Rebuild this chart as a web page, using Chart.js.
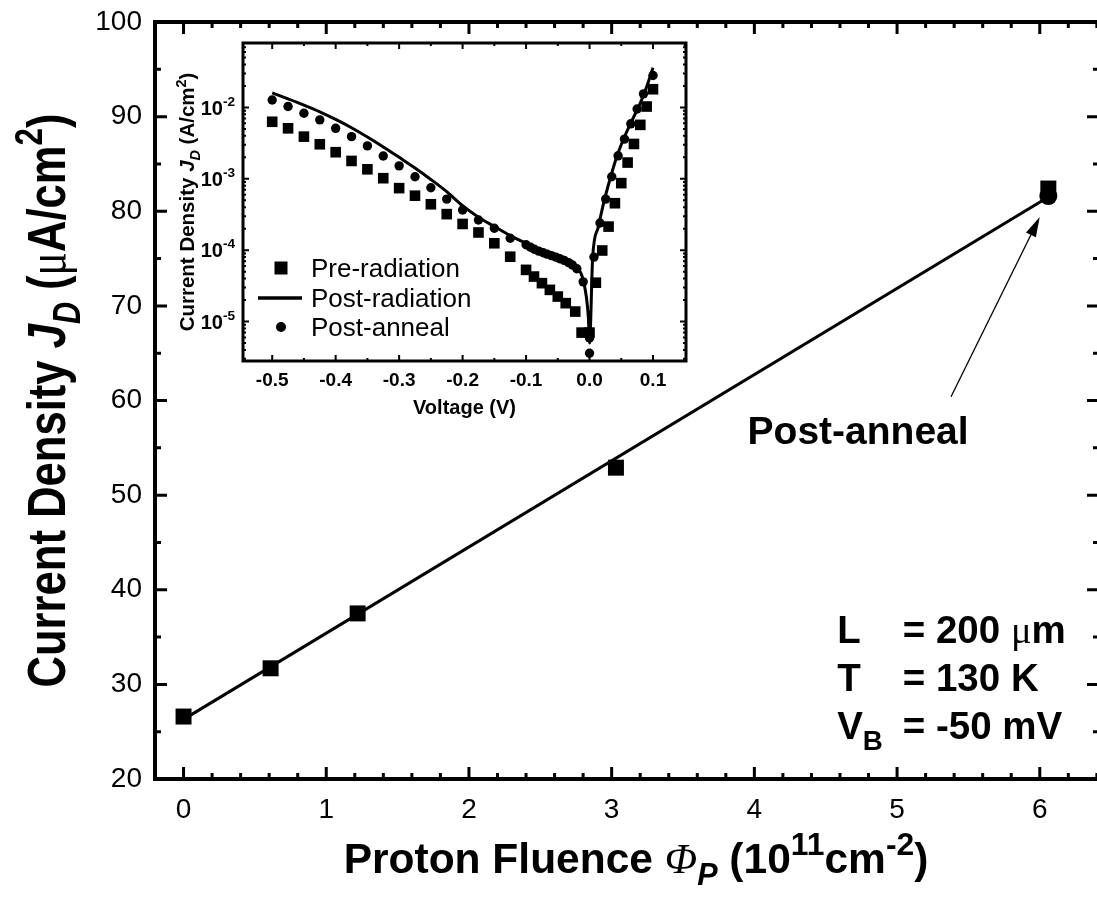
<!DOCTYPE html>
<html>
<head>
<meta charset="utf-8">
<title>Current density vs proton fluence</title>
<script src="https://cdn.jsdelivr.net/npm/chart.js@4.4.1/dist/chart.umd.min.js"></script>
<style>
  html, body { margin:0; padding:0; background:#fff; }
  #wrap { position:relative; width:1097px; height:909px; overflow:hidden; background:#fff; }
  canvas { position:absolute; }
  #main { left:0; top:0; }
  #inset { left:160px; top:30px; }
</style>
</head>
<body>
<div id="wrap">
  <canvas id="main" width="1102" height="909"></canvas>
  <canvas id="inset" width="540" height="400"></canvas>
</div>
<script>
// ---------------- main plot data ----------------
const fluence = [0, 0.61, 1.22, 3.03, 6.06];
const currentDensity = [26.6, 31.7, 37.5, 52.9, 82.4];
const annealFluence = [6.06];
const annealDensity = [81.6];
const fitFluence = [0, 6.06];
const fitDensity = [26.3, 81.5];
const mainXTicks = [0, 1, 2, 3, 4, 5, 6];
const mainYTicks = [20, 30, 40, 50, 60, 70, 80, 90, 100];

// ---------------- inset data ----------------
const preV = [-0.5,-0.475,-0.45,-0.425,-0.4,-0.375,-0.35,-0.325,-0.3,-0.275,-0.25,-0.225,-0.2,-0.175,-0.15,-0.125,-0.1,-0.0875,-0.075,-0.0625,-0.05,-0.0375,-0.0225,-0.0125,0,0.01,0.02,0.03,0.04,0.05,0.06,0.07,0.08,0.09,0.1];
const preJ = [6.3e-3,5.1e-3,3.9e-3,3.05e-3,2.36e-3,1.78e-3,1.36e-3,1.02e-3,7.4e-4,5.8e-4,4.4e-4,3.2e-4,2.33e-4,1.77e-4,1.25e-4,8.1e-5,5.3e-5,4.27e-5,3.45e-5,2.78e-5,2.24e-5,1.81e-5,1.38e-5,7.0e-6,7.0e-6,3.5e-5,9.9e-5,2.14e-4,4.55e-4,8.7e-4,1.69e-3,3.08e-3,5.7e-3,1.03e-2,1.8e-2];
const postRadV = [-0.5,-0.475,-0.45,-0.425,-0.4,-0.375,-0.35,-0.325,-0.3,-0.275,-0.25,-0.225,-0.2,-0.175,-0.15,-0.125,-0.1,-0.075,-0.05,-0.03,-0.02,-0.01,-0.002,0.0,0.005,0.014,0.022,0.032,0.043,0.053,0.066,0.08,0.09,0.1];
const postRadJ = [1.6e-2,1.32e-2,1.08e-2,8.7e-3,6.8e-3,5.2e-3,3.85e-3,2.8e-3,2.0e-3,1.42e-3,9.8e-4,6.6e-4,4.2e-4,2.9e-4,2.15e-4,1.6e-4,1.25e-4,1.0e-4,8.4e-5,7.0e-5,5.8e-5,3.8e-5,1.2e-5,5.0e-6,8.1e-5,2.14e-4,4.5e-4,9.7e-4,2.05e-3,3.5e-3,6.3e-3,1.15e-2,1.95e-2,3.6e-2];
const annealV = [-0.5,-0.475,-0.45,-0.425,-0.4,-0.375,-0.35,-0.325,-0.3,-0.275,-0.25,-0.225,-0.2,-0.175,-0.15,-0.125,-0.1,-0.093,-0.087,-0.08,-0.073,-0.067,-0.06,-0.053,-0.047,-0.04,-0.033,-0.027,-0.02,-0.01,0,0,0.007,0.0165,0.0255,0.035,0.045,0.055,0.065,0.075,0.085,0.1];
const annealJ = [1.27e-2,1.03e-2,8.3e-3,6.7e-3,5.1e-3,3.9e-3,2.89e-3,2.09e-3,1.52e-3,1.07e-3,7.5e-4,5.2e-4,3.66e-4,2.65e-4,2.03e-4,1.47e-4,1.19e-4,1.1e-4,1.03e-4,9.7e-5,9.2e-5,8.8e-5,8.4e-5,8.0e-5,7.6e-5,7.2e-5,6.7e-5,6.2e-5,5.5e-5,3.6e-5,5.9e-6,3.6e-6,8.0e-5,2.4e-4,5.2e-4,1.07e-3,2.1e-3,3.6e-3,5.9e-3,9.5e-3,1.55e-2,2.8e-2];
const insetXTicks = [-0.5, -0.4, -0.3, -0.2, -0.1, 0.0, 0.1];
const insetYExponents = [-5, -4, -3, -2];
const legendLabels = ['Pre-radiation', 'Post-radiation', 'Post-anneal'];

// ---------------- helpers ----------------
const FAM = "'Liberation Sans', Arial, Helvetica, sans-serif";
const SERIF = "'Liberation Serif', 'Times New Roman', serif";
const pts = (xs, ys) => xs.map((x, i) => ({ x, y: ys[i] }));
const fmt1 = v => { const r = Math.round(v * 10) / 10; return (Math.abs(r) < 1e-9 ? 0 : r).toFixed(1); };
const noPadX = s => { s.paddingLeft = 0; s.paddingRight = 0; };
const noPadY = s => { s.paddingTop = 0; s.paddingBottom = 0; };

function drawRich(ctx, parts, x, y, o) {
  const size = o.size;
  const items = parts.map(p => {
    const s = (p.sub || p.sup) ? size * (p.scale || 0.68) : size;
    const fam = p.family || o.family;
    const wt = p.weight || o.weight || 'normal';
    const font = (p.italic ? 'italic ' : '') + wt + ' ' + s + 'px ' + fam;
    ctx.font = font;
    return { t: p.t, font, w: ctx.measureText(p.t).width,
             dy: p.sub ? size * (p.subShift || 0.28) : p.sup ? -size * (p.supShift || 0.42) : 0 };
  });
  const total = items.reduce((a, b) => a + b.w, 0);
  let cx = o.align === 'center' ? x - total / 2 : o.align === 'right' ? x - total : x;
  ctx.textAlign = 'left';
  ctx.textBaseline = 'alphabetic';
  const base = y + size * 0.36;
  for (const it of items) { ctx.font = it.font; ctx.fillText(it.t, cx, base + it.dy); cx += it.w; }
  return total;
}

// ---------------- main decorations ----------------
const mainDecor = {
  id: 'mainDecor',
  afterDatasetsDraw(chart) {
    const { ctx, chartArea: a, scales: { x, y } } = chart;
    ctx.save();
    ctx.strokeStyle = '#000';
    ctx.fillStyle = '#000';
    // inward ticks on all four sides
    ctx.lineWidth = 3;
    ctx.beginPath();
    for (let i = -1; i <= 32; i++) {
      const v = i * 0.2;
      if (v < x.min - 1e-9 || v > x.max + 1e-9) continue;
      const len = (i % 5 === 0) ? 12 : 6;
      const px = x.getPixelForValue(v);
      ctx.moveTo(px, a.bottom); ctx.lineTo(px, a.bottom - len);
      ctx.moveTo(px, a.top); ctx.lineTo(px, a.top + len);
    }
    for (let v = 20; v <= 100; v += 5) {
      const len = (v % 10 === 0) ? 12 : 6;
      const py = y.getPixelForValue(v);
      ctx.moveTo(a.left, py); ctx.lineTo(a.left + len, py);
      ctx.moveTo(a.right, py); ctx.lineTo(a.right - len, py);
    }
    ctx.stroke();
    ctx.lineWidth = 4;
    ctx.strokeRect(a.left, a.top, a.right - a.left, a.bottom - a.top);

    // arrow annotation
    const tx = x.getPixelForValue(5.378), ty = y.getPixelForValue(60.4);
    const hx = x.getPixelForValue(6.0), hy = y.getPixelForValue(79.4);
    const ang = Math.atan2(hy - ty, hx - tx);
    const hl = 20, hw = 5.5;
    ctx.lineWidth = 1.3;
    ctx.beginPath();
    ctx.moveTo(tx, ty);
    ctx.lineTo(hx - Math.cos(ang) * (hl - 2), hy - Math.sin(ang) * (hl - 2));
    ctx.stroke();
    ctx.beginPath();
    ctx.moveTo(hx, hy);
    ctx.lineTo(hx - Math.cos(ang) * hl + Math.sin(ang) * hw, hy - Math.sin(ang) * hl - Math.cos(ang) * hw);
    ctx.lineTo(hx - Math.cos(ang) * hl - Math.sin(ang) * hw, hy - Math.sin(ang) * hl + Math.cos(ang) * hw);
    ctx.closePath();
    ctx.fill();

    // annotation text
    drawRich(ctx, [{ t: 'Post-anneal' }], x.getPixelForValue(4.727), y.getPixelForValue(56.9),
             { size: 39, family: FAM, weight: 'bold', align: 'center' });

    // parameters block
    const c1 = x.getPixelForValue(4.58), c2 = x.getPixelForValue(5.04);
    const rows = [
      { l: [{ t: 'L' }], r: [{ t: '= 200 ' }, { t: 'μ', family: SERIF, weight: 'normal' }, { t: 'm' }], yv: 35.8 },
      { l: [{ t: 'T' }], r: [{ t: '= 130 K' }], yv: 30.8 },
      { l: [{ t: 'V' }, { t: 'B', sub: true, scale: 0.72, subShift: 0.3 }], r: [{ t: '= -50 mV' }], yv: 25.7 },
    ];
    for (const row of rows) {
      const py = y.getPixelForValue(row.yv);
      drawRich(ctx, row.l, c1, py, { size: 38.5, family: FAM, weight: 'bold' });
      drawRich(ctx, row.r, c2, py, { size: 38.5, family: FAM, weight: 'bold' });
    }

    // x axis title
    drawRich(ctx, [
      { t: 'Proton Fluence ' },
      { t: 'Φ', italic: true, family: SERIF, weight: 'normal' },
      { t: 'P', italic: true, sub: true, scale: 0.72 },
      { t: ' (10' },
      { t: '11', sup: true, scale: 0.75 },
      { t: 'cm' },
      { t: '-2', sup: true, scale: 0.75 },
      { t: ')' },
    ], 636, 858, { size: 42.5, family: FAM, weight: 'bold', align: 'center' });

    // y axis title (condensed)
    ctx.save();
    ctx.translate(45, (a.top + a.bottom) / 2);
    ctx.rotate(-Math.PI / 2);
    ctx.scale(0.8, 1);
    drawRich(ctx, [
      { t: 'Current Density ' },
      { t: 'J', italic: true },
      { t: 'D', italic: true, sub: true, scale: 0.7 },
      { t: ' (' },
      { t: 'μ', family: SERIF, weight: 'normal' },
      { t: 'A/cm' },
      { t: '2', sup: true, scale: 0.72 },
      { t: ')' },
    ], 0, 0, { size: 54.5, family: FAM, weight: 'bold', align: 'center' });
    ctx.restore();
    ctx.restore();
  }
};

const mainChart = new Chart(document.getElementById('main'), {
  type: 'scatter',
  data: {
    datasets: [
      { label: 'Linear fit', data: pts(fitFluence, fitDensity), showLine: true, borderColor: '#000',
        borderWidth: 3, pointRadius: 0, fill: false },
      { label: 'Post-anneal', data: pts(annealFluence, annealDensity), pointStyle: 'circle', pointRadius: 9,
        backgroundColor: '#000', borderColor: '#000', borderWidth: 0 },
      { label: 'Current density', data: pts(fluence, currentDensity), pointStyle: 'rect', pointRadius: 11.3,
        backgroundColor: '#000', borderColor: '#000', borderWidth: 0 },
    ]
  },
  options: {
    responsive: false,
    animation: false,
    layout: { autoPadding: false, padding: { top: 22, right: 3, left: 0, bottom: 0 } },
    plugins: { legend: { display: false }, tooltip: { enabled: false } },
    scales: {
      x: {
        type: 'linear', min: -0.2, max: 6.415,
        afterFit(s) { s.height = 130; noPadX(s); },
        afterBuildTicks(s) { s.ticks = mainXTicks.map(v => ({ value: v })); },
        ticks: { font: { family: FAM, size: 28 }, color: '#000', padding: 14, maxRotation: 0, autoSkip: false },
        grid: { display: false, drawTicks: false }, border: { display: false }
      },
      y: {
        type: 'linear', min: 20, max: 100,
        afterFit(s) { s.width = 155; noPadY(s); },
        afterBuildTicks(s) { s.ticks = mainYTicks.map(v => ({ value: v })); },
        ticks: { font: { family: FAM, size: 28 }, color: '#000', padding: 13, autoSkip: false },
        grid: { display: false, drawTicks: false }, border: { display: false }
      }
    }
  },
  plugins: [mainDecor]
});

// ---------------- inset decorations ----------------
const insetDecor = {
  id: 'insetDecor',
  beforeDatasetsDraw(chart) {
    const { ctx, chartArea: a } = chart;
    ctx.save();
    ctx.fillStyle = '#fff';
    ctx.fillRect(a.left, a.top, a.right - a.left, a.bottom - a.top);
    ctx.restore();
  },
  afterDraw(chart) {
    const { ctx, chartArea: a, scales: { x, y } } = chart;
    ctx.save();
    ctx.strokeStyle = '#000';
    ctx.fillStyle = '#000';
    ctx.lineWidth = 2;
    ctx.beginPath();
    for (let i = -11; i <= 3; i++) {
      const v = i * 0.05;
      if (v < x.min || v > x.max) continue;
      const len = (i % 2 === 0) ? 6 : 3;
      const px = x.getPixelForValue(v);
      ctx.moveTo(px, a.bottom); ctx.lineTo(px, a.bottom - len);
      ctx.moveTo(px, a.top); ctx.lineTo(px, a.top + len);
    }
    for (let e = -6; e <= -2; e++) {
      for (let k = 1; k <= 9; k++) {
        const v = k * Math.pow(10, e);
        if (v < y.min || v > y.max) continue;
        const len = k === 1 ? 6 : 3;
        const py = y.getPixelForValue(v);
        ctx.moveTo(a.left, py); ctx.lineTo(a.left + len, py);
        ctx.moveTo(a.right, py); ctx.lineTo(a.right - len, py);
      }
    }
    ctx.stroke();
    ctx.lineWidth = 3;
    ctx.strokeRect(a.left, a.top, a.right - a.left, a.bottom - a.top);

    // y tick labels 10^n
    for (const e of insetYExponents) {
      const py = y.getPixelForValue(Math.pow(10, e));
      drawRich(ctx, [{ t: '10' }, { t: String(e), sup: true, scale: 0.68, supShift: 0.45 }], a.left - 8, py,
               { size: 20, family: FAM, weight: 'bold', align: 'right' });
    }
    // x title
    drawRich(ctx, [{ t: 'Voltage (V)' }], (a.left + a.right) / 2, 377, { size: 20, family: FAM, weight: 'bold', align: 'center' });
    // y title
    ctx.save();
    ctx.translate(27, (a.top + a.bottom) / 2);
    ctx.rotate(-Math.PI / 2);
    drawRich(ctx, [
      { t: 'Current Density ' }, { t: 'J', italic: true }, { t: 'D', italic: true, sub: true, scale: 0.7 },
      { t: ' (A/cm' }, { t: '2', sup: true, scale: 0.7 }, { t: ')' }
    ], 0, 0, { size: 20.5, family: FAM, weight: 'bold', align: 'center' });
    ctx.restore();

    // legend
    const lx = 121, tx = 151, rows = [238, 268, 297];
    ctx.fillRect(lx - 6.5, rows[0] - 6.5, 13, 13);
    ctx.lineWidth = 3.5;
    ctx.beginPath(); ctx.moveTo(lx - 23, rows[1]); ctx.lineTo(lx + 21, rows[1]); ctx.stroke();
    ctx.beginPath(); ctx.arc(lx, rows[2], 5, 0, Math.PI * 2); ctx.fill();
    legendLabels.forEach((t, i) => drawRich(ctx, [{ t }], tx, rows[i], { size: 26, family: FAM, weight: 'normal' }));
    ctx.restore();
  }
};

const insetChart = new Chart(document.getElementById('inset'), {
  type: 'scatter',
  data: {
    datasets: [
      { label: legendLabels[0], data: pts(preV, preJ), pointStyle: 'rect', pointRadius: 7.5,
        backgroundColor: '#000', borderColor: '#000', borderWidth: 0 },
      { label: legendLabels[1], data: pts(postRadV, postRadJ), showLine: true, borderColor: '#000',
        borderWidth: 3, pointRadius: 0, cubicInterpolationMode: 'monotone', fill: false },
      { label: legendLabels[2], data: pts(annealV, annealJ), pointStyle: 'circle', pointRadius: 4.7,
        backgroundColor: '#000', borderColor: '#000', borderWidth: 0 },
    ]
  },
  options: {
    responsive: false,
    animation: false,
    layout: { autoPadding: false, padding: { top: 13, right: 14, left: 0, bottom: 0 } },
    plugins: { legend: { display: false }, tooltip: { enabled: false } },
    scales: {
      x: {
        type: 'linear', min: -0.546, max: 0.152,
        afterFit(s) { s.height = 69; noPadX(s); },
        afterBuildTicks(s) { s.ticks = insetXTicks.map(v => ({ value: v })); },
        ticks: { callback: v => fmt1(v), font: { family: FAM, size: 19, weight: 'bold' }, color: '#000',
                 padding: 8, maxRotation: 0, autoSkip: false },
        grid: { display: false, drawTicks: false }, border: { display: false }
      },
      y: {
        type: 'logarithmic', min: 2.8e-6, max: 0.08,
        afterFit(s) { s.width = 83; noPadY(s); },
        afterBuildTicks(s) { s.ticks = insetYExponents.map(e => ({ value: Math.pow(10, e) })); },
        ticks: { display: false },
        grid: { display: false, drawTicks: false }, border: { display: false }
      }
    }
  },
  plugins: [insetDecor]
});
</script>
</body>
</html>
